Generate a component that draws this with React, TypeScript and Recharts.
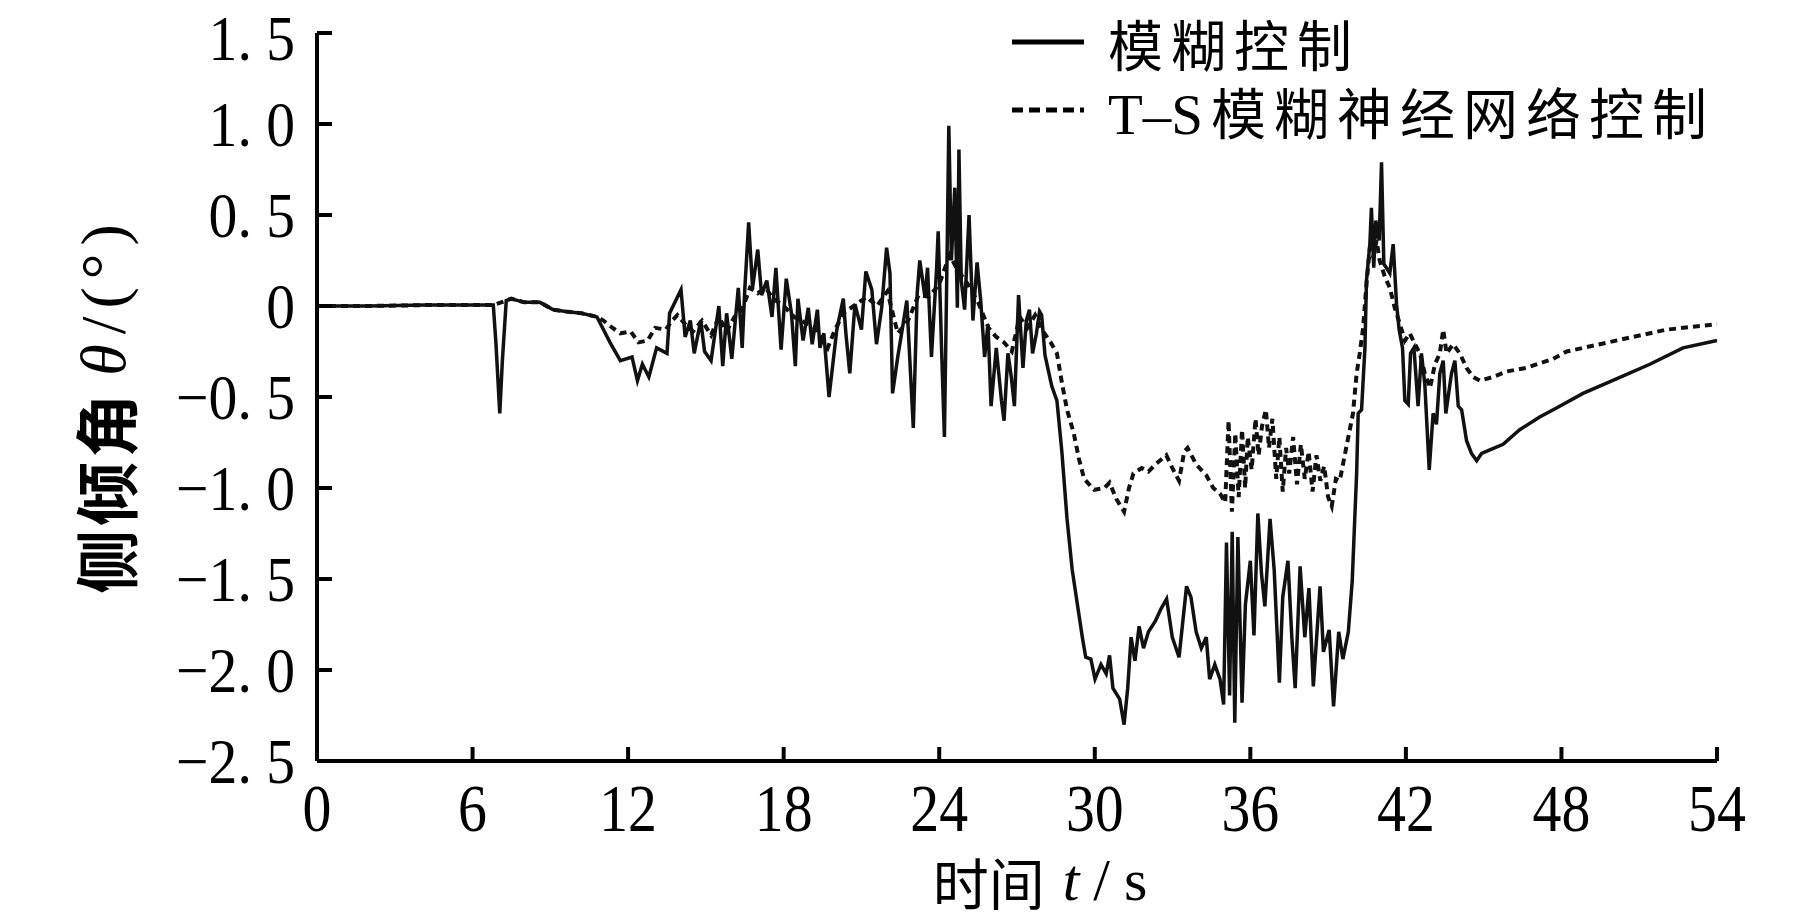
import { Label, Legend, Line, LineChart, XAxis, YAxis } from 'recharts';

// 模糊控制 (solid)
const fuzzyT = [
  0, 2, 4.2, 6.8, 6.9, 7.05, 7.15, 7.3, 7.5, 8.0, 8.6, 9.1, 9.6, 10.2, 10.8, 11.3, 11.7, 12.15, 12.36, 12.55,
  12.8, 13.1, 13.5, 13.6, 14.04, 14.2, 14.4, 14.55, 14.8, 14.95, 15.2, 15.5, 15.65, 15.8, 16.0, 16.25, 16.4, 16.5, 16.65, 16.8,
  17.0, 17.15, 17.35, 17.55, 17.7, 17.9, 18.1, 18.3, 18.45, 18.55, 18.75, 18.95, 19.1, 19.3, 19.4, 19.55, 19.75, 20.05, 20.3, 20.4,
  20.55, 20.75, 21.0, 21.17, 21.4, 21.58, 21.78, 21.97, 22.1, 22.2, 22.4, 22.55, 22.75, 22.9, 23.0, 23.15, 23.25, 23.45, 23.55, 23.7,
  23.9, 23.96, 24.1, 24.2, 24.3, 24.37, 24.47, 24.6, 24.7, 24.76, 24.85, 24.98, 25.15, 25.3, 25.46, 25.6, 25.75, 25.88, 26.0, 26.2,
  26.4, 26.5, 26.65, 26.78, 26.9, 27.06, 27.23, 27.36, 27.48, 27.6, 27.75, 27.87, 27.95, 28.08, 28.34, 28.54, 28.73, 28.93, 29.13, 29.33,
  29.52, 29.65, 29.85, 30.01, 30.24, 30.44, 30.57, 30.7, 30.96, 31.13, 31.27, 31.4, 31.55, 31.71, 31.88, 32.07, 32.34, 32.57, 32.77, 32.99,
  33.25, 33.54, 33.71, 33.91, 34.11, 34.3, 34.43, 34.63, 34.83, 34.97, 35.08, 35.2, 35.3, 35.4, 35.52, 35.68, 35.81, 36.0, 36.14, 36.29,
  36.43, 36.56, 36.76, 36.92, 37.12, 37.25, 37.45, 37.6, 37.73, 37.92, 38.1, 38.26, 38.43, 38.69, 38.82, 39.04, 39.21, 39.41, 39.57, 39.78,
  39.93, 40.03, 40.1, 40.16, 40.29, 40.42, 40.48, 40.61, 40.67, 40.76, 40.84, 40.97, 41.06, 41.15, 41.25, 41.38, 41.51, 41.64, 41.74, 41.87,
  41.96, 42.09, 42.18, 42.31, 42.47, 42.6, 42.73, 42.9, 43.05, 43.18, 43.31, 43.44, 43.54, 43.63, 43.76, 43.89, 44.02, 44.15, 44.34, 44.53,
  44.73, 44.92, 45.24, 45.75, 46.39, 47.16, 47.81, 48.83, 50.12, 51.41, 52.69, 54
];
const fuzzyV = [
  0, 0, 0.005, 0.005, -0.2, -0.59, -0.3, 0.03, 0.04, 0.02, 0.02, -0.02, -0.03, -0.04, -0.06, -0.2, -0.3, -0.28, -0.41, -0.32,
  -0.39, -0.23, -0.26, -0.04, 0.09, -0.17, -0.08, -0.26, -0.08, -0.25, -0.3, 0.0, -0.33, -0.04, -0.29, 0.1, -0.23, 0.09, 0.46, 0.1,
  0.31, 0.06, 0.14, -0.06, 0.21, -0.24, 0.15, -0.04, -0.33, 0.04, -0.19, -0.01, -0.21, -0.02, -0.23, -0.15, -0.5, -0.13, 0.04, -0.15,
  -0.37, 0.01, -0.13, 0.19, 0.09, -0.21, -0.01, 0.32, 0.18, -0.48, -0.28, -0.15, 0.03, -0.39, -0.67, 0.07, 0.25, 0.05, 0.21, -0.28,
  0.21, 0.41, -0.28, -0.72, 0.25, 0.99, 0.25, 0.65, -0.01, 0.86, 0.14, -0.02, 0.5, -0.08, 0.24, 0.03, -0.28, -0.1, -0.55, -0.23,
  -0.52, -0.63, -0.26, -0.39, -0.55, 0.06, -0.34, -0.08, -0.02, -0.26, -0.15, -0.03, -0.05, -0.27, -0.44, -0.52, -0.8, -1.17, -1.45, -1.64,
  -1.82, -1.93, -1.94, -2.05, -1.97, -2.02, -1.92, -2.1, -2.16, -2.3, -2.1, -1.82, -1.95, -1.76, -1.88, -1.79, -1.73, -1.66, -1.61, -1.82,
  -1.93, -1.54, -1.6, -1.79, -1.88, -1.82, -2.05, -1.97, -2.05, -2.19, -1.3, -2.14, -1.24, -2.29, -1.27, -2.18, -1.64, -1.4, -1.81, -1.14,
  -1.47, -1.65, -1.17, -1.45, -2.07, -1.6, -1.4, -1.82, -2.1, -1.43, -1.82, -1.55, -2.09, -1.54, -1.9, -1.78, -2.2, -1.79, -1.94, -1.79,
  -1.51, -1.16, -0.92, -0.59, -0.57, -0.23, 0.14, 0.34, 0.54, 0.21, 0.47, 0.36, 0.79, 0.23, 0.21, 0.18, 0.34, 0.01, -0.13, -0.23,
  -0.52, -0.54, -0.26, -0.23, -0.55, -0.26, -0.43, -0.9, -0.59, -0.65, -0.37, -0.3, -0.59, -0.5, -0.37, -0.3, -0.55, -0.57, -0.74, -0.81,
  -0.85, -0.81, -0.79, -0.76, -0.68, -0.61, -0.56, -0.48, -0.4, -0.32, -0.23, -0.19
];

// T-S模糊神经网络控制 (dashed)
const tsT = [
  0, 2, 4.2, 6.8, 7.3, 7.5, 8.0, 8.6, 9.1, 9.6, 10.2, 10.8, 11.05, 11.3, 11.7, 12.1, 12.4, 12.75, 13.05, 13.45,
  13.7, 13.9, 14.2, 14.5, 14.85, 15.2, 15.5, 15.8, 16.1, 16.4, 16.7, 17.0, 17.3, 17.6, 18.0, 18.4, 18.8, 19.2, 19.45, 19.7,
  19.95, 20.3, 20.7, 21.2, 21.6, 22.0, 22.4, 22.8, 23.2, 23.6, 24.0, 24.4, 24.7, 25.1, 25.5, 25.9, 26.2, 26.5, 26.8, 27.1,
  27.4, 27.7, 28.01, 28.3, 28.54, 28.73, 28.93, 29.19, 29.39, 29.59, 29.98, 30.37, 30.57, 30.83, 31.13, 31.32, 31.49, 31.81, 32.07, 32.34,
  32.76, 32.99, 33.25, 33.45, 33.58, 33.91, 34.3, 34.57, 34.83, 35.03, 35.16, 35.29, 35.42, 35.55, 35.68, 35.8, 35.9, 36.05, 36.2, 36.32,
  36.45, 36.6, 36.72, 36.85, 37.0, 37.12, 37.25, 37.38, 37.5, 37.65, 37.8, 37.95, 38.1, 38.25, 38.4, 38.55, 38.7, 38.85, 39.0, 39.14,
  39.3, 39.45, 39.71, 39.96, 40.1, 40.22, 40.35, 40.48, 40.61, 40.74, 40.87, 40.99, 41.19, 41.38, 41.57, 41.77, 41.96, 42.15, 42.35, 42.54,
  42.73, 42.93, 43.12, 43.31, 43.44, 43.57, 43.82, 44.08, 44.34, 44.59, 44.85, 45.36, 45.88, 46.65, 47.68, 48.2, 49.48, 50.76, 52.05, 54
];
const tsV = [
  0, 0, 0.005, 0.005, 0.03, 0.04, 0.02, 0.02, -0.02, -0.03, -0.04, -0.06, -0.08, -0.11, -0.15, -0.14, -0.2, -0.19, -0.12, -0.13,
  -0.08, -0.05, -0.1, -0.14, -0.08, -0.16, -0.06, -0.14, -0.06, -0.02, 0.1, 0.07, 0.1, 0.04, 0.0, -0.06, -0.09, -0.12, -0.17, -0.23,
  -0.14, -0.04, 0.0, 0.05, 0.0, 0.08, -0.15, -0.08, 0.06, 0.05, 0.12, 0.28, 0.2, 0.12, 0.02, -0.12, -0.17, -0.2, -0.25, -0.06,
  -0.12, -0.05, -0.14, -0.2, -0.26, -0.42, -0.57, -0.7, -0.84, -0.95, -1.01, -1.0, -0.97, -1.06, -1.13, -1.0, -0.92, -0.89, -0.91, -0.87,
  -0.82, -0.89, -0.96, -0.8, -0.78, -0.87, -0.93, -1.0, -1.03, -1.08, -0.63, -1.13, -0.7, -1.05, -0.68, -1.0, -0.72, -0.9, -0.62, -0.82,
  -0.66, -0.57, -0.78, -0.62, -0.95, -0.72, -1.02, -0.78, -0.92, -0.72, -0.98, -0.76, -0.95, -0.8, -1.02, -0.82, -0.96, -0.88, -1.05, -1.1,
  -0.95, -0.96, -0.77, -0.59, -0.37, -0.26, -0.12, 0.12, 0.32, 0.27, 0.36, 0.25, 0.16, 0.1, -0.01, -0.1, -0.19, -0.15, -0.21, -0.26,
  -0.37, -0.45, -0.32, -0.26, -0.13, -0.26, -0.21, -0.26, -0.34, -0.39, -0.41, -0.39, -0.36, -0.34, -0.29, -0.25, -0.21, -0.17, -0.13, -0.1
];

const seriesNames = ['模糊控制', 'T-S模糊神经网络控制'];
const xTicks = [0, 6, 12, 18, 24, 30, 36, 42, 48, 54];
const yTicks = [-2.5, -2, -1.5, -1, -0.5, 0, 0.5, 1, 1.5];
const yTickLabels = ['−2. 5', '−2. 0', '−1. 5', '−1. 0', '−0. 5', '0', '0. 5', '1. 0', '1. 5'];

const fuzzyData = fuzzyT.map((t, i) => ({ t, v: fuzzyV[i] }));
const tsData = tsT.map((t, i) => ({ t, v: tsV[i] }));

const serif = '"Liberation Serif", "DejaVu Serif", serif';
const cjk = '"Noto Sans CJK SC", sans-serif';

const YTick = (props: any) => {
  const { x, y, payload } = props;
  const label = yTickLabels[yTicks.indexOf(payload.value)];
  // keep the top label's text box inside the picture
  const ty = Math.max(y, 38);
  return (
    <g>
      <line x1={x} x2={x + 15} y1={y} y2={y} stroke="#000" strokeWidth={4} />
      <text
        transform={`translate(${x - 22},${ty}) scale(0.9,1)`}
        textAnchor="end"
        dominantBaseline="central"
        fontSize={64}
        fontFamily={serif}
        fill="#000"
      >
        {label}
      </text>
    </g>
  );
};

const XTick = (props: any) => {
  const { x, y, payload } = props;
  return (
    <g>
      <line x1={x} x2={x} y1={y} y2={y - 14} stroke="#000" strokeWidth={4} />
      <text
        transform={`translate(${x},${y + 47}) scale(0.85,1)`}
        textAnchor="middle"
        dominantBaseline="central"
        fontSize={68}
        fontFamily={serif}
        fill="#000"
      >
        {payload.value}
      </text>
    </g>
  );
};

const renderYLabel = () => (
  <text
    transform="translate(103,405) rotate(-90)"
    textAnchor="middle"
    dominantBaseline="central"
    fontSize={64}
    fontWeight={700}
    fontFamily={cjk}
    letterSpacing={4}
    fill="#000"
  >
    侧倾角
    <tspan dx={14} fontFamily={serif} fontWeight={400} fontStyle="italic">θ</tspan>
    <tspan dx={6} fontFamily={serif} fontWeight={400} letterSpacing={8}>/(°)</tspan>
  </text>
);

const renderXLabel = () => (
  <text x={1040} y={880} textAnchor="middle" dominantBaseline="central" fontSize={56} fontFamily={cjk} fill="#000">
    时间
    <tspan dx={18} fontFamily={serif} fontStyle="italic" fontSize={60}>t</tspan>
    <tspan dx={14} fontFamily={serif} fontSize={60}>/</tspan>
    <tspan dx={14} fontFamily={serif} fontSize={60}>s</tspan>
  </text>
);

const renderLegend = () => (
  <div style={{ position: 'relative', width: 1819, height: 150 }}>
    {seriesNames.map((name, i) => (
      <div
        key={name}
        style={{
          position: 'absolute',
          left: 1012,
          top: i === 0 ? 2 : 70,
          height: 80,
          display: 'flex',
          alignItems: 'center',
          whiteSpace: 'nowrap'
        }}
      >
        <svg width={74} height={10} style={{ marginRight: 22 }}>
          <line
            x1={0}
            x2={72}
            y1={5}
            y2={5}
            stroke="#000"
            strokeWidth={5}
            strokeDasharray={i === 0 ? undefined : '11 6'}
          />
        </svg>
        <span style={{ fontSize: 55, fontFamily: cjk, letterSpacing: 8, color: '#000' }}>
          {i === 0 ? (
            name
          ) : (
            <>
              <span style={{ fontFamily: serif, letterSpacing: 0, fontSize: 57 }}>T–S</span>
              <span style={{ marginLeft: 8 }}>{name.slice(3)}</span>
            </>
          )}
        </span>
      </div>
    ))}
  </div>
);

export default function App() {
  return (
    <div style={{ width: 1819, height: 923, background: '#fff' }}>
      <style>{'body{margin:0}'}</style>
      <LineChart width={1819} height={923} margin={{ top: 33, right: 102, left: 0, bottom: 0 }}>
        <XAxis
          type="number"
          dataKey="t"
          domain={[0, 54]}
          ticks={xTicks}
          interval={0}
          height={162}
          tickSize={0}
          tickMargin={0}
          tick={<XTick />}
          axisLine={{ stroke: '#000', strokeWidth: 4 }}
          tickLine={false}
          allowDuplicatedCategory={false}
        >
          <Label content={renderXLabel} />
        </XAxis>
        <YAxis
          type="number"
          domain={[-2.5, 1.5]}
          ticks={yTicks}
          interval={0}
          width={317}
          tickSize={0}
          tickMargin={0}
          tick={<YTick />}
          axisLine={{ stroke: '#000', strokeWidth: 4 }}
          tickLine={false}
        >
          <Label content={renderYLabel} />
        </YAxis>
        <Legend
          layout="vertical"
          align="center"
          verticalAlign="middle"
          content={renderLegend}
          wrapperStyle={{ left: 0, top: 0, width: 1819 }}
        />
        <Line
          data={fuzzyData}
          dataKey="v"
          name={seriesNames[0]}
          type="linear"
          stroke="#111"
          strokeWidth={3.5}
          dot={false}
          activeDot={false}
          isAnimationActive={false}
        />
        <Line
          data={tsData}
          dataKey="v"
          name={seriesNames[1]}
          type="linear"
          stroke="#111"
          strokeWidth={4}
          strokeDasharray="7 5"
          dot={false}
          activeDot={false}
          isAnimationActive={false}
        />
      </LineChart>
    </div>
  );
}
